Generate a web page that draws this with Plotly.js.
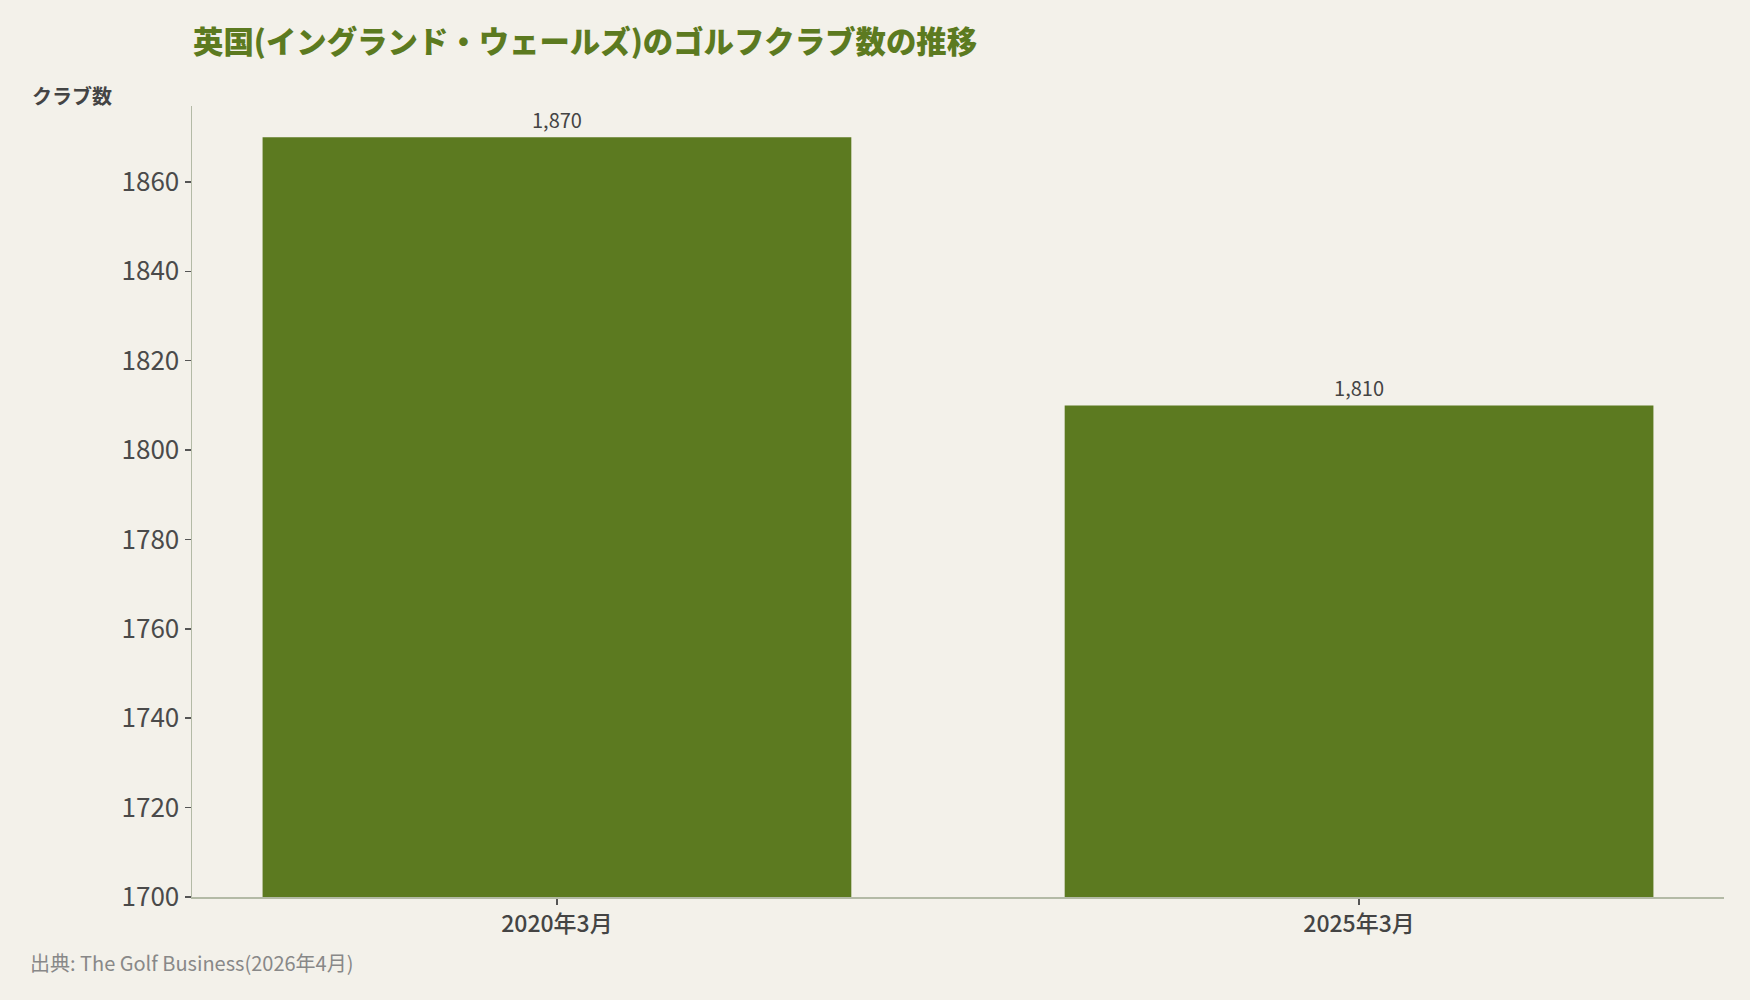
<!DOCTYPE html>
<html>
<head>
<meta charset="utf-8">
<script src="https://cdn.plot.ly/plotly-3.0.1.min.js"></script>
<style>
  html, body { margin: 0; padding: 0; background: #f3f1ea; }
  #chart { width: 1750px; height: 1000px; }
</style>
</head>
<body>
<div id="chart"></div>
<script>
const categories = ["2020年3月", "2025年3月"];
const clubCounts = [1870, 1810];
const titleText = "英国(イングランド・ウェールズ)のゴルフクラブ数の推移";
const yAxisLabel = "クラブ数";
const sourceText = "出典: The Golf Business(2026年4月)";

const FONT = "'Noto Sans CJK JP', 'Noto Sans', sans-serif";

const trace = {
  type: "bar",
  x: categories,
  y: clubCounts,
  marker: { color: "#5c7a20" },
  texttemplate: "%{y:,}",
  textposition: "outside",
  cliponaxis: false,
  textfont: { family: FONT, size: 20, color: "#444444" },
  hoverinfo: "x+y"
};

const layout = {
  width: 1750,
  height: 1000,
  paper_bgcolor: "#f3f1ea",
  plot_bgcolor: "#f3f1ea",
  margin: { l: 192, r: 26, t: 106, b: 103 },
  bargap: 0.266,
  showlegend: false,
  title: {
    text: titleText,
    font: { family: FONT, size: 30.4, color: "#5c7a20", weight: 900 },
    xref: "container", x: 193 / 1750, xanchor: "left",
    yref: "container", y: 1 - 42 / 1000, yanchor: "middle"
  },
  xaxis: {
    type: "category",
    range: [-0.455, 1.455],
    showline: true, linecolor: "#b3baa6", linewidth: 1.5,
    ticks: "outside", ticklen: 6, tickcolor: "#555555", tickwidth: 1.5,
    tickfont: { family: FONT, size: 23, color: "#444444", weight: 500 },
    showgrid: false, zeroline: false
  },
  yaxis: {
    range: [1700, 1877],
    dtick: 20, tick0: 1700,
    showline: true, linecolor: "#b3baa6", linewidth: 1.5,
    ticks: "outside", ticklen: 6, tickcolor: "#555555", tickwidth: 1.5,
    tickfont: { family: FONT, size: 26, color: "#4a4a4a" },
    showgrid: false, zeroline: false
  },
  annotations: [
    {
      text: "<b>" + yAxisLabel + "</b>",
      xref: "paper", yref: "paper",
      x: (30 - 192) / 1532, y: (897 - 96) / 791,
      xanchor: "left", yanchor: "middle",
      showarrow: false,
      font: { family: FONT, size: 20, color: "#444444" }
    },
    {
      text: sourceText,
      xref: "paper", yref: "paper",
      x: (28 - 192) / 1532, y: (897 - 962) / 791,
      xanchor: "left", yanchor: "middle",
      showarrow: false,
      font: { family: FONT, size: 20, color: "#888888" }
    }
  ]
};

Plotly.newPlot("chart", [trace], layout, { displayModeBar: false, staticPlot: true });
</script>
</body>
</html>
